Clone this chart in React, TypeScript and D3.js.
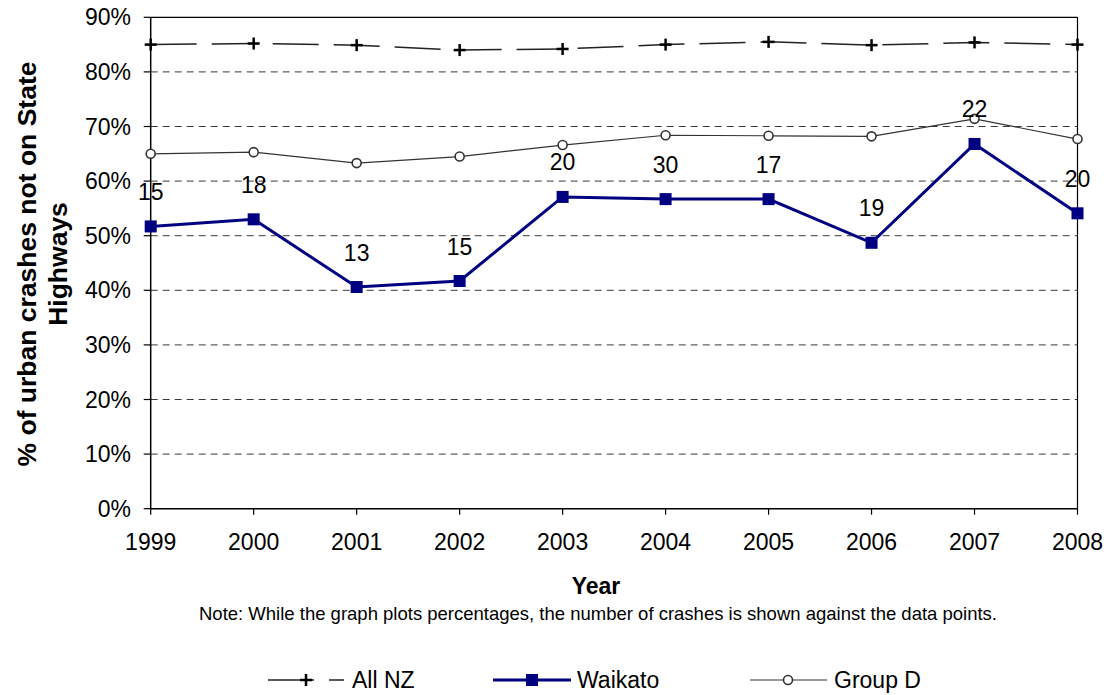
import React from 'react';
import * as d3 from 'd3';

const years = ['1999', '2000', '2001', '2002', '2003', '2004', '2005', '2006', '2007', '2008'];
const allNZ = [85.0, 85.2, 84.9, 84.0, 84.2, 85.0, 85.5, 84.9, 85.4, 85.0];
const groupD = [65.0, 65.3, 63.3, 64.5, 66.6, 68.4, 68.3, 68.2, 71.4, 67.7];
const waikato = [51.7, 53.0, 40.6, 41.7, 57.1, 56.7, 56.7, 48.7, 66.8, 54.1];
const crashCounts = [15, 18, 13, 15, 20, 30, 17, 19, 22, 20];
const yTicks = [0, 10, 20, 30, 40, 50, 60, 70, 80, 90];

const W = 1107;
const H = 695;
const FONT = '"Liberation Sans", Arial, sans-serif';

export default function App() {
  const left = 150.7, right = 1077.5, top = 17.3, bottom = 508.7;
  const x = d3.scalePoint<string>().domain(years).range([left, right]);
  const y = d3.scaleLinear().domain([0, 90]).range([bottom, top]);

  const line = d3.line<number>().x((_, i) => x(years[i]) as number).y((v) => y(v));

  const legendY = 680;

  return (
    <svg width={W} height={H} style={{ position: 'absolute', left: 0, top: 0, background: '#fff' }} fontFamily={FONT}>
      {/* gridlines */}
      {yTicks.filter((t) => t > 0 && t < 90).map((t) => (
        <line key={'g' + t} x1={left} x2={right} y1={y(t)} y2={y(t)} stroke="#3a3a3a" strokeWidth={1} strokeDasharray="7,5" />
      ))}
      {/* plot border top/right */}
      <line x1={left} x2={right} y1={top} y2={top} stroke="#000" strokeWidth={1.2} />
      <line x1={right} x2={right} y1={top} y2={bottom} stroke="#000" strokeWidth={1.2} />
      {/* axes */}
      <line x1={left} x2={left} y1={top} y2={bottom} stroke="#000" strokeWidth={1.5} />
      <line x1={left} x2={right} y1={bottom} y2={bottom} stroke="#000" strokeWidth={1.5} />
      {yTicks.map((t) => (
        <g key={'yt' + t}>
          <line x1={left - 7} x2={left} y1={y(t)} y2={y(t)} stroke="#000" strokeWidth={1.2} />
          <text x={131} y={y(t)} dy="0.35em" textAnchor="end" fontSize={23} fill="#000">{t}%</text>
        </g>
      ))}
      {years.map((yr) => (
        <g key={'xt' + yr}>
          <line x1={x(yr)} x2={x(yr)} y1={bottom} y2={bottom + 6} stroke="#000" strokeWidth={1.2} />
          <text x={x(yr)} y={550} textAnchor="middle" fontSize={23} fill="#000">{yr}</text>
        </g>
      ))}

      {/* All NZ */}
      <path d={line(allNZ) || ''} fill="none" stroke="#222" strokeWidth={1.5} strokeDasharray="46,15" />
      {allNZ.map((v, i) => {
        const cx = x(years[i]) as number, cy = y(v);
        return (
          <g key={'p' + i} stroke="#000" strokeWidth={2.5}>
            <line x1={cx - 6} x2={cx + 6} y1={cy} y2={cy} />
            <line x1={cx} x2={cx} y1={cy - 6} y2={cy + 6} />
          </g>
        );
      })}

      {/* Group D */}
      <path d={line(groupD) || ''} fill="none" stroke="#333" strokeWidth={1.2} />
      {groupD.map((v, i) => (
        <circle key={'c' + i} cx={x(years[i])} cy={y(v)} r={4.5} fill="#fff" stroke="#333" strokeWidth={1.6} />
      ))}

      {/* Waikato */}
      <path d={line(waikato) || ''} fill="none" stroke="#000080" strokeWidth={3} />
      {waikato.map((v, i) => (
        <rect key={'s' + i} x={(x(years[i]) as number) - 6} y={y(v) - 6} width={12} height={12} fill="#000080" />
      ))}
      {waikato.map((v, i) => (
        <text key={'l' + i} x={x(years[i])} y={y(v) - 26.5} textAnchor="middle" fontSize={23} fill="#000">{crashCounts[i]}</text>
      ))}

      {/* axis titles */}
      <g transform="translate(0,264) rotate(-90)">
        <text x={0} y={36} textAnchor="middle" fontSize={26.5} fontWeight="bold" fill="#000">% of urban crashes not on State</text>
        <text x={0} y={67} textAnchor="middle" fontSize={26.5} fontWeight="bold" fill="#000">Highways</text>
      </g>
      <text x={596} y={594} textAnchor="middle" fontSize={23} fontWeight="bold" fill="#000">Year</text>
      <text x={598} y={620} textAnchor="middle" fontSize={18.5} fill="#000">Note: While the graph plots percentages, the number of crashes is shown against the data points.</text>

      {/* legend */}
      <g>
        <line x1={268} x2={344} y1={legendY} y2={legendY} stroke="#222" strokeWidth={1.5} strokeDasharray="46,15" />
        <g stroke="#000" strokeWidth={2.5}>
          <line x1={300} x2={312} y1={legendY} y2={legendY} />
          <line x1={306} x2={306} y1={legendY - 6} y2={legendY + 6} />
        </g>
        <text x={352} y={legendY} dy="0.35em" fontSize={23} fill="#000">All NZ</text>

        <line x1={493} x2={571} y1={legendY} y2={legendY} stroke="#000080" strokeWidth={3} />
        <rect x={526} y={legendY - 6} width={12} height={12} fill="#000080" />
        <text x={577} y={legendY} dy="0.35em" fontSize={23} fill="#000">Waikato</text>

        <line x1={750} x2={827} y1={legendY} y2={legendY} stroke="#333" strokeWidth={1.2} />
        <circle cx={788} cy={legendY} r={4.5} fill="#fff" stroke="#333" strokeWidth={1.6} />
        <text x={834} y={legendY} dy="0.35em" fontSize={23} fill="#000">Group D</text>
      </g>
    </svg>
  );
}
